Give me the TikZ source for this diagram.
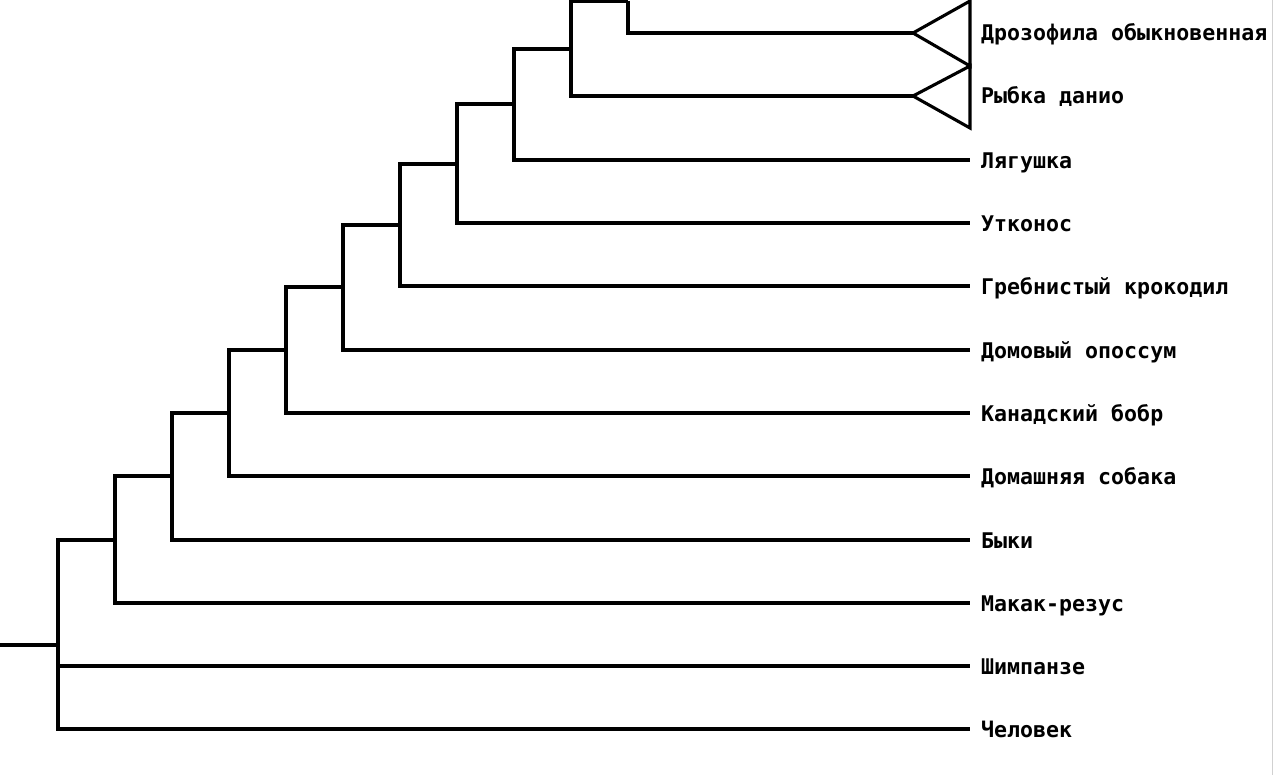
\documentclass[tikz,border=0pt]{standalone}
\usepackage{fontspec}
\newfontfamily\lblfont{DejaVu Sans Mono}
\begin{document}
\begin{tikzpicture}[x=1bp,y=-1bp,
  branch/.style={draw=black,line width=3.1bp,line join=miter},
  leaf/.style={anchor=base west,inner sep=0pt,font=\lblfont\bfseries\fontsize{21.6bp}{26bp}\selectfont}]
\useasboundingbox (0,0) rectangle (1274,775);
\clip (0,0) rectangle (1274,775);
% internal nodes
\coordinate (r0) at (0,645);
\coordinate (n58) at (58,645);
\coordinate (n115) at (115,540);
\coordinate (n172) at (172,476);
\coordinate (n229) at (229,413);
\coordinate (n286) at (286,350);
\coordinate (n343) at (343,287);
\coordinate (n400) at (400,225);
\coordinate (n457) at (457,164);
\coordinate (n514) at (514,104);
\coordinate (n571) at (571,49);
\coordinate (n628) at (628,1);
% leaf tips
\coordinate (t1) at (913,33);
\coordinate (t2) at (913,96);
\coordinate (t3) at (970,160);
\coordinate (t4) at (970,223);
\coordinate (t5) at (970,286);
\coordinate (t6) at (970,350);
\coordinate (t7) at (970,413);
\coordinate (t8) at (970,476);
\coordinate (t9) at (970,540);
\coordinate (t10) at (970,603);
\coordinate (t11) at (970,666);
\coordinate (t12) at (970,729);
% labels
\node[leaf] (l1) at (981,41) {Дрозофила обыкновенная};
\node[leaf] (l2) at (981,104) {Рыбка данио};
\node[leaf] (l3) at (981,168) {Лягушка};
\node[leaf] (l4) at (981,231) {Утконос};
\node[leaf] (l5) at (981,294) {Гребнистый крокодил};
\node[leaf] (l6) at (981,358) {Домовый опоссум};
\node[leaf] (l7) at (981,421) {Канадский бобр};
\node[leaf] (l8) at (981,484) {Домашняя собака};
\node[leaf] (l9) at (981,548) {Быки};
\node[leaf] (l10) at (981,611) {Макак-резус};
\node[leaf] (l11) at (981,674) {Шимпанзе};
\node[leaf] (l12) at (981,737) {Человек};
% tree
\draw[branch] (r0) -- (n58);
\draw[branch] (n115) -| (n58) |- (t12);
\draw[branch] (n58) |- (t11);
\draw[branch] (n172) -| (n115) |- (t10);
\draw[branch] (n229) -| (n172) |- (t9);
\draw[branch] (n286) -| (n229) |- (t8);
\draw[branch] (n343) -| (n286) |- (t7);
\draw[branch] (n400) -| (n343) |- (t6);
\draw[branch] (n457) -| (n400) |- (t5);
\draw[branch] (n514) -| (n457) |- (t4);
\draw[branch] (n571) -| (n514) |- (t3);
\draw[branch] (n628) -| (n571) |- (t2);
\draw[branch] (n628) |- (t1);
% collapsed clades
\draw[branch] (t1) -- (970,1) -- (970,66) -- cycle;
\draw[branch] (t2) -- (970,66) -- (970,128) -- cycle;
% right border
\draw[draw=black!18,line width=1bp] (1272.5,0) -- (1272.5,775);
\end{tikzpicture}
\end{document}
